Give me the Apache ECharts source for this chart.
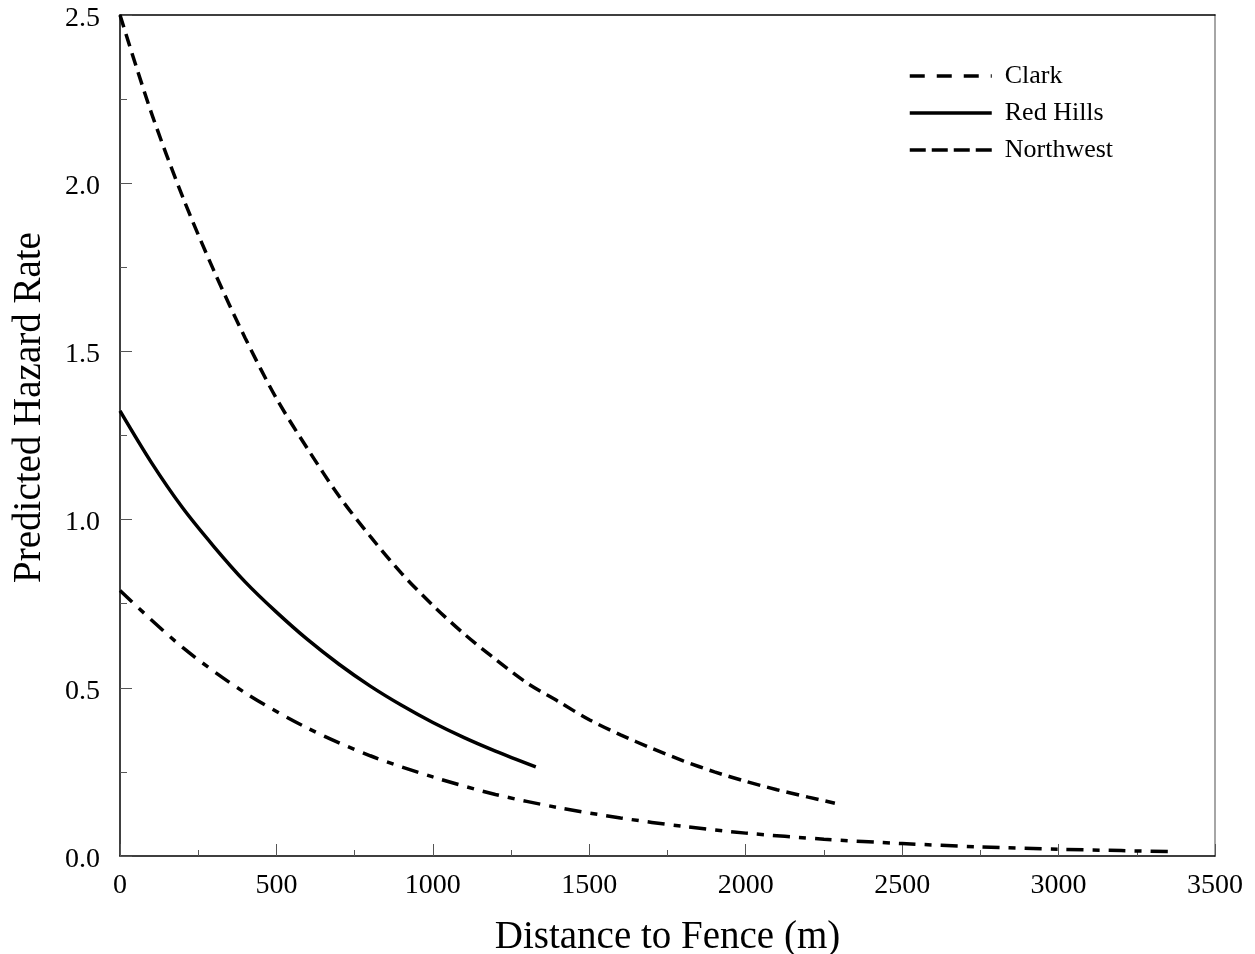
<!DOCTYPE html>
<html>
<head>
<meta charset="utf-8">
<script src="https://cdn.jsdelivr.net/npm/echarts@6/dist/echarts.min.js"></script>
<style>html,body{margin:0;padding:0;background:#fff}#chart{width:1255px;height:954px}</style>
</head>
<body>
<div id="chart"></div>
<script>
// Values
const seriesNames = ['Clark', 'Red Hills', 'Northwest'];
const clarkX = [0, 100, 200, 300, 400, 500, 600, 700, 800, 900, 1000, 1100, 1200, 1300, 1400, 1500, 1600, 1700, 1800, 1900, 2000, 2100, 2200, 2285];
const clarkY = [2.5, 2.21, 1.96, 1.74, 1.54, 1.36, 1.21, 1.07, 0.95, 0.84, 0.745, 0.66, 0.585, 0.515, 0.46, 0.405, 0.36, 0.32, 0.283, 0.25, 0.222, 0.197, 0.175, 0.157];
const redHillsX = [0, 100, 200, 300, 400, 500, 600, 700, 800, 900, 1000, 1100, 1200, 1329];
const redHillsY = [1.323, 1.17, 1.035, 0.92, 0.815, 0.725, 0.643, 0.57, 0.505, 0.448, 0.397, 0.352, 0.312, 0.265];
const northwestX = [0, 200, 400, 600, 800, 1000, 1200, 1400, 1600, 1800, 2000, 2250, 2500, 2750, 3000, 3200, 3362];
const northwestY = [0.789, 0.62, 0.485, 0.38, 0.298, 0.235, 0.183, 0.144, 0.113, 0.088, 0.068, 0.05, 0.037, 0.027, 0.02, 0.016, 0.013];
const xTicks = [0, 500, 1000, 1500, 2000, 2500, 3000, 3500];
const yTicks = [0.0, 0.5, 1.0, 1.5, 2.0, 2.5];

const pairs = (xs, ys) => xs.map((x, i) => [x, ys[i]]);
const FONT = '"Liberation Serif", "Times New Roman", serif';

const chart = echarts.init(document.getElementById('chart'), null, {renderer: 'canvas'});
const tickStyle = {color: '#555', width: 1};
const legendLine = (type) => ({type: type, width: 3.5, color: '#000'});
const hiddenSymbol = {color: 'rgba(0,0,0,0)', borderWidth: 0, opacity: 0};
chart.setOption({
  animation: false,
  backgroundColor: '#fff',
  grid: {left: 120, right: 40, top: 15, bottom: 98, containLabel: false, outerBoundsMode: 'none'},
  legend: {
    orient: 'vertical', left: 908, top: 63, padding: 0,
    itemWidth: 82, itemHeight: 26, itemGap: 11,
    textStyle: {fontFamily: FONT, fontSize: 26, color: '#000', padding: [0, 0, 0, 8]},
    itemStyle: hiddenSymbol,
    data: [
      {name: 'Clark', lineStyle: legendLine([15, 12]), itemStyle: hiddenSymbol},
      {name: 'Red Hills', lineStyle: legendLine('solid'), itemStyle: hiddenSymbol},
      {name: 'Northwest', lineStyle: legendLine([16, 6]), itemStyle: hiddenSymbol}
    ]
  },
  xAxis: [{
    type: 'value', min: xTicks[0], max: xTicks[xTicks.length - 1], interval: 500,
    name: 'Distance to Fence (m)', nameLocation: 'middle', nameGap: 62,
    nameTextStyle: {fontFamily: FONT, fontSize: 39, color: '#000'},
    axisLine: {show: true, lineStyle: {color: '#000', width: 1.5}},
    axisTick: {show: true, inside: true, length: 12, lineStyle: tickStyle},
    minorTick: {show: true, splitNumber: 2, length: 6, lineStyle: tickStyle},
    axisLabel: {fontFamily: FONT, fontSize: 28, color: '#000', margin: 16,
      formatter: v => String(v)},
    splitLine: {show: false}
  }, {
    type: 'value', position: 'top', min: 0, max: 3500,
    axisLine: {show: true, onZero: false, lineStyle: {color: '#000', width: 1.5}},
    axisTick: {show: false}, axisLabel: {show: false}, splitLine: {show: false}
  }],
  yAxis: [{
    type: 'value', min: yTicks[0], max: yTicks[yTicks.length - 1], interval: 0.5,
    name: 'Predicted Hazard Rate', nameLocation: 'middle', nameGap: 71,
    nameTextStyle: {fontFamily: FONT, fontSize: 39, color: '#000', padding: [0, 0, 0, 56]},
    axisLine: {show: true, lineStyle: {color: '#000', width: 1.5}},
    axisTick: {show: true, inside: true, length: 12, lineStyle: tickStyle},
    minorTick: {show: true, splitNumber: 2, length: 7, lineStyle: tickStyle},
    axisLabel: {color: '#000', margin: 20,
      formatter: v => '{t|' + v.toFixed(1) + '}',
      rich: {t: {fontFamily: FONT, fontSize: 28, color: '#000', padding: [7, 0, 0, 0]}}},
    splitLine: {show: false}
  }, {
    type: 'value', position: 'right', min: 0, max: 2.5,
    axisLine: {show: true, onZero: false, lineStyle: {color: '#888', width: 1.5}},
    axisTick: {show: false}, axisLabel: {show: false}, splitLine: {show: false}
  }],
  series: [
    {name: seriesNames[0], type: 'line', data: pairs(clarkX, clarkY), smooth: 0.3,
      symbol: 'none', lineStyle: {color: '#000', width: 3.5, type: [13, 7]}, itemStyle: {color: '#000'}},
    {name: seriesNames[1], type: 'line', data: pairs(redHillsX, redHillsY), smooth: 0.3,
      symbol: 'none', lineStyle: {color: '#000', width: 3.5, type: 'solid'}, itemStyle: {color: '#000'}},
    {name: seriesNames[2], type: 'line', data: pairs(northwestX, northwestY), smooth: 0.3,
      symbol: 'none', lineStyle: {color: '#000', width: 3.5, type: [17, 9, 7, 9]}, itemStyle: {color: '#000'}}
  ]
});
</script>
</body>
</html>
